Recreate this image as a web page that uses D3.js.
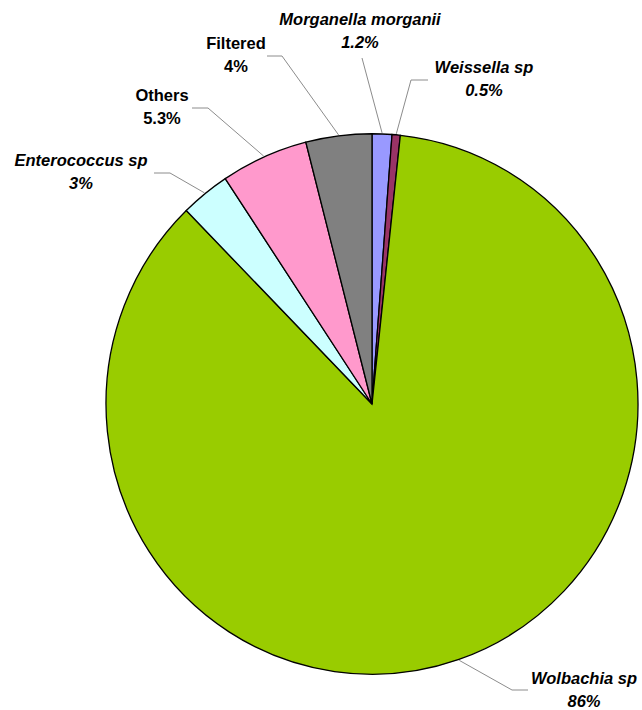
<!DOCTYPE html>
<html>
<head>
<meta charset="utf-8">
<script src="https://cdn.jsdelivr.net/npm/d3@7"></script>
<style>
  html, body { margin: 0; padding: 0; background: #fff; }
  svg { display: block; }
</style>
</head>
<body>
<svg id="chart" width="642" height="710"></svg>
<script>
// Slices, clockwise from 12 o'clock
const categories = ["Morganella morganii", "Weissella sp", "Wolbachia sp", "Enterococcus sp", "Others", "Filtered"];
const values = [1.2, 0.5, 86, 3, 5.3, 4];
const valueLabels = ["1.2%", "0.5%", "86%", "3%", "5.3%", "4%"];
const italicNames = [true, true, true, true, false, false];
const colors = ["#9999FF", "#993366", "#99CC00", "#CCFFFF", "#FF99CC", "#808080"];

// Label layout: text centre, first baseline, and the leader's bend point
const labelLayout = [
  { x: 360, y: 25, bend: [362, 58], end: [362, 58] },
  { x: 484, y: 73, bend: [411, 80], end: [428, 80] },
  { x: 584, y: 684, bend: [512, 690], end: [528, 690] },
  { x: 81,  y: 166, bend: [170, 173], end: [154, 173] },
  { x: 162, y: 101, bend: [208, 108], end: [192, 108] },
  { x: 236, y: 49, bend: [282, 56], end: [267, 56] }
];

const cx = 372, cy = 404, radius = 266, stretchY = 1.016;

const svg = d3.select("#chart");
const g = svg.append("g").attr("transform", `translate(${cx},${cy}) scale(1,${stretchY})`);

const data = categories.map((c, i) => ({ name: c, value: values[i], label: valueLabels[i], italic: italicNames[i], color: colors[i], layout: labelLayout[i] }));

const pie = d3.pie().sort(null).value(d => d.value).startAngle(0).endAngle(2 * Math.PI);
const arc = d3.arc().innerRadius(0).outerRadius(radius);
const arcs = pie(data);

g.selectAll("path.slice")
  .data(arcs)
  .join("path")
  .attr("class", "slice")
  .attr("d", arc)
  .attr("fill", d => d.data.color)
  .attr("stroke", "#000")
  .attr("stroke-width", 1.3)
  .attr("stroke-linejoin", "miter");

// Leader lines from the rim at each slice's mid angle
const rimArc = d3.arc().innerRadius(radius + 1).outerRadius(radius + 1);
svg.append("g").selectAll("polyline")
  .data(arcs)
  .join("polyline")
  .attr("points", d => {
    const [px, py] = rimArc.centroid(d);
    const L = d.data.layout;
    return [[cx + px, cy + py * stretchY], L.bend, L.end].map(p => p.join(",")).join(" ");
  })
  .attr("fill", "none")
  .attr("stroke", "#8c8c8c")
  .attr("stroke-width", 1);

// Labels
const labels = svg.append("g")
  .attr("font-family", "'Liberation Sans', Arial, Helvetica, sans-serif")
  .attr("font-size", 16.5)
  .attr("font-weight", "bold")
  .attr("fill", "#000");

arcs.forEach(d => {
  const L = d.data.layout;
  const t = labels.append("text")
    .attr("text-anchor", "middle")
    .attr("font-style", d.data.italic ? "italic" : "normal");
  t.append("tspan").attr("x", L.x).attr("y", L.y).text(d.data.name);
  t.append("tspan").attr("x", L.x).attr("y", L.y + 23).text(d.data.label);
});
</script>
</body>
</html>
